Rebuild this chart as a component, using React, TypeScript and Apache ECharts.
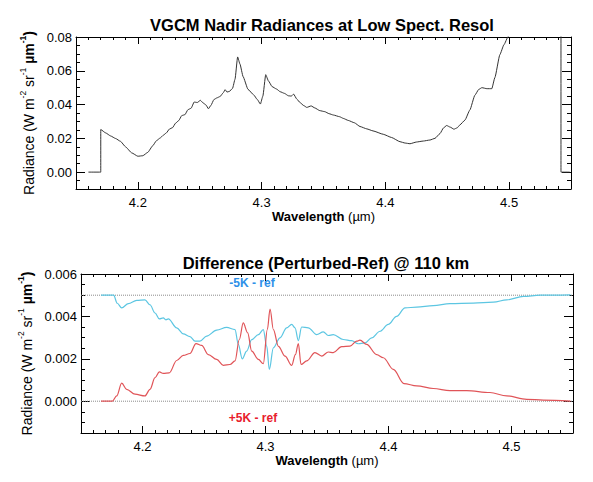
import React, { useEffect, useRef } from "react";
import * as echarts from "echarts";

// ---------- Data ----------
const topWavelength = [
  4.160, 4.170, 4.170, 4.174, 4.178, 4.182, 4.186, 4.190, 4.195, 4.200,
  4.204, 4.208, 4.212, 4.215, 4.218, 4.2205, 4.223, 4.2255, 4.228, 4.2305,
  4.233, 4.2355, 4.238, 4.2405, 4.243, 4.2455, 4.248, 4.2505, 4.253, 4.255,
  4.257, 4.259, 4.2615, 4.264, 4.2665, 4.269, 4.2705, 4.272, 4.274, 4.2765,
  4.2785, 4.2806, 4.2825, 4.285, 4.289, 4.2935, 4.2965, 4.299, 4.301, 4.3033,
  4.3055, 4.3085, 4.312, 4.315, 4.3185, 4.3216, 4.324, 4.3258, 4.3285, 4.331,
  4.334, 4.3365, 4.340, 4.343, 4.347, 4.351, 4.3545, 4.358, 4.363, 4.366,
  4.370, 4.375, 4.3795, 4.385, 4.390, 4.3983, 4.405, 4.4118, 4.416, 4.4199,
  4.425, 4.4307, 4.436, 4.4401, 4.4441, 4.447, 4.4495, 4.4525, 4.4554, 4.458,
  4.4603, 4.4643, 4.4683, 4.4723, 4.4755, 4.478, 4.482, 4.486, 4.4885, 4.4925,
  4.4958, 4.4993, 4.505, 4.520, 4.5419, 4.5419, 4.549,
];
const topRadiance = [
  0, 0, 0.0252, 0.0232, 0.0214, 0.0199, 0.0182, 0.0150, 0.0114, 0.0094,
  0.0097, 0.0117, 0.0156, 0.0186, 0.0202, 0.0218, 0.0232, 0.0255, 0.0263, 0.0290,
  0.0305, 0.0335, 0.0340, 0.0370, 0.0378, 0.0415, 0.0412, 0.0425, 0.0408, 0.0398,
  0.0375, 0.0395, 0.0430, 0.0440, 0.0448, 0.0470, 0.0488, 0.0474, 0.0478, 0.0496,
  0.0550, 0.0682, 0.0640, 0.0566, 0.0490, 0.0458, 0.0430, 0.0403, 0.0450, 0.0577,
  0.0540, 0.0506, 0.0492, 0.0476, 0.0466, 0.0452, 0.0450, 0.0462, 0.0432, 0.0412,
  0.0394, 0.0383, 0.0392, 0.0380, 0.0364, 0.0358, 0.0346, 0.0338, 0.0328, 0.0318,
  0.0306, 0.0292, 0.0270, 0.0256, 0.0244, 0.0224, 0.0205, 0.0180, 0.0172, 0.0168,
  0.0178, 0.0184, 0.0190, 0.0200, 0.0228, 0.0262, 0.0276, 0.0266, 0.0254, 0.0262,
  0.0280, 0.0308, 0.0368, 0.0455, 0.0490, 0.0500, 0.0494, 0.0494, 0.0560, 0.0695,
  0.0754, 0.0804, 0.0880, 0.0980, 0.1050, 0, 0,
];

const minusWavelength = [
  4.1663, 4.1765, 4.1795, 4.1831, 4.1885, 4.1953, 4.2020, 4.2061, 4.2102, 4.2137,
  4.2169, 4.2190, 4.2210, 4.2278, 4.2332, 4.2386, 4.2427, 4.2467, 4.2522, 4.2603,
  4.2684, 4.2752, 4.2779, 4.2811, 4.2847, 4.2888, 4.2942, 4.2982, 4.3010, 4.3031,
  4.3064, 4.3118, 4.3172, 4.3213, 4.3240, 4.3267, 4.3294, 4.3348, 4.3416, 4.3470,
  4.3510, 4.3551, 4.3632, 4.3700, 4.3754, 4.3809, 4.3863, 4.3931, 4.3998, 4.4066,
  4.4134, 4.4229, 4.4364, 4.4500, 4.4690, 4.4853, 4.4961, 4.5097, 4.5232, 4.5480,
];
const minus5K = [
  0.00500, 0.00500, 0.00462, 0.00440, 0.00460, 0.00476, 0.00478, 0.00455, 0.00416, 0.00388,
  0.00393, 0.00384, 0.00388, 0.00346, 0.00318, 0.00305, 0.00283, 0.00283, 0.00307, 0.00335,
  0.00348, 0.00338, 0.00268, 0.00200, 0.00236, 0.00290, 0.00314, 0.00338, 0.00260, 0.00150,
  0.00252, 0.00299, 0.00346, 0.00362, 0.00346, 0.00286, 0.00350, 0.00346, 0.00314, 0.00327,
  0.00310, 0.00314, 0.00291, 0.00286, 0.00271, 0.00275, 0.00299, 0.00330, 0.00362, 0.00400,
  0.00440, 0.00444, 0.00451, 0.00460, 0.00463, 0.00467, 0.00478, 0.00494, 0.00500, 0.00502,
];

const plusWavelength = [
  4.1663, 4.1755, 4.1790, 4.1831, 4.1871, 4.1939, 4.2020, 4.2061, 4.2102, 4.2137,
  4.2169, 4.2218, 4.2278, 4.2332, 4.2386, 4.2435, 4.2481, 4.2535, 4.2603, 4.2657,
  4.2711, 4.2752, 4.2787, 4.2819, 4.2855, 4.2888, 4.2942, 4.2982, 4.3015, 4.3037,
  4.3064, 4.3105, 4.3159, 4.3213, 4.3243, 4.3267, 4.3289, 4.3335, 4.3402, 4.3457,
  4.3511, 4.3551, 4.3619, 4.3687, 4.3741, 4.3768, 4.3822, 4.3904, 4.3958, 4.4039,
  4.4126, 4.4229, 4.4364, 4.4500, 4.4636, 4.4825, 4.4961, 4.5124, 4.5259, 4.5480,
];
const plus5K = [
  0, 0, 0.00025, 0.00085, 0.00056, 0.00033, 0.00025, 0.00056, 0.00111, 0.00138,
  0.00131, 0.00134, 0.00192, 0.00216, 0.00225, 0.00272, 0.00263, 0.00220, 0.00197, 0.00169,
  0.00173, 0.00190, 0.00291, 0.00369, 0.00322, 0.00236, 0.00197, 0.00177, 0.00338, 0.00435,
  0.00338, 0.00259, 0.00213, 0.00169, 0.00220, 0.00272, 0.00173, 0.00190, 0.00229, 0.00213,
  0.00232, 0.00229, 0.00257, 0.00260, 0.00283, 0.00288, 0.00268, 0.00220, 0.00205, 0.00150,
  0.00083, 0.00072, 0.00060, 0.00050, 0.00050, 0.00041, 0.00025, 0.00009, 0.00005, 0,
];

// dotted reference levels in the difference panel
const referenceLevels = [0.005, 0];

const topTitle = "VGCM Nadir Radiances at Low Spect. Resol";
const bottomTitle = "Difference (Perturbed-Ref) @ 110 km";
const minusLabel = "-5K - ref";
const plusLabel = "+5K - ref";

// ---------- Styling ----------
const FONT = '"Liberation Sans", Arial, Helvetica, sans-serif';
const X_MIN = 4.15;
const X_MAX = 4.55;

const isMultiple = (v: number, step: number) =>
  Math.abs(v / step - Math.round(v / step)) < 1e-6;

const yName = "{n|Radiance (W m}{s|-2}{n| sr}{s|-1}{b| \u00b5m}{sb|-1}{b|)}";
const yNameRich = {
  n: { fontSize: 14, fontFamily: FONT, color: "#000", lineHeight: 17, verticalAlign: "bottom" },
  b: { fontSize: 14, fontFamily: FONT, fontWeight: "bold", color: "#000", lineHeight: 17, verticalAlign: "bottom" },
  s: { fontSize: 8.5, fontFamily: FONT, color: "#000", lineHeight: 12, padding: [0, 0, 8, 0], verticalAlign: "bottom" },
  sb: { fontSize: 8.5, fontFamily: FONT, fontWeight: "bold", color: "#000", lineHeight: 12, padding: [0, 0, 8, 0], verticalAlign: "bottom" },
};
const xName = "{b|Wavelength}{n| (\u00b5m)}";
const xNameRich = {
  b: { fontSize: 13, fontFamily: FONT, fontWeight: "bold", color: "#000" },
  n: { fontSize: 13, fontFamily: FONT, color: "#000" },
};

function xAxes(grid: number, labelMargin: number, nameGap: number) {
  const common = { type: "value", gridIndex: grid, min: X_MIN, max: X_MAX, splitLine: { show: false } };
  const major = (position: string, labels: boolean) => ({
    ...common,
    position,
    splitNumber: 4,
    axisLine: { show: true, onZero: false, lineStyle: { color: "#000", width: 1 } },
    axisTick: { show: true, inside: true, length: 7, lineStyle: { color: "#000", width: 1 } },
    axisLabel: labels
      ? {
          show: true,
          showMinLabel: false,
          showMaxLabel: false,
          margin: labelMargin,
          fontSize: 13,
          fontFamily: FONT,
          color: "#000",
          formatter: (v: number) => (isMultiple(v, 0.1) ? v.toFixed(1) : ""),
        }
      : { show: false },
    ...(labels
      ? { name: xName, nameLocation: "middle", nameGap, nameTextStyle: { rich: xNameRich } }
      : {}),
  });
  const minor = (position: string) => ({
    ...common,
    position,
    interval: 0.01,
    axisLine: { show: false, onZero: false },
    axisTick: { show: true, inside: true, length: 3, lineStyle: { color: "#000", width: 1 } },
    axisLabel: { show: false },
  });
  return [major("bottom", true), minor("bottom"), major("top", false), minor("top")];
}

function yAxes(grid: number, min: number, max: number, minorStep: number, majorStep: number, digits: number, nameGap: number) {
  const common = { type: "value", gridIndex: grid, min, max, splitLine: { show: false } };
  const major = (position: string, labels: boolean) => ({
    ...common,
    position,
    splitNumber: 4,
    axisLine: { show: true, onZero: false, lineStyle: { color: "#000", width: 1 } },
    axisTick: { show: true, inside: true, length: 9, lineStyle: { color: "#000", width: 1 } },
    axisLabel: labels
      ? {
          show: true,
          showMinLabel: false,
          margin: 4,
          fontSize: 13,
          fontFamily: FONT,
          color: "#000",
          formatter: (v: number) => (isMultiple(v, majorStep) ? v.toFixed(digits) : ""),
        }
      : { show: false },
    ...(labels
      ? { name: yName, nameLocation: "middle", nameGap, nameRotate: 90, nameTextStyle: { rich: yNameRich } }
      : {}),
  });
  const minor = (position: string) => ({
    ...common,
    position,
    interval: minorStep,
    axisLine: { show: false, onZero: false },
    axisTick: { show: true, inside: true, length: 4, lineStyle: { color: "#000", width: 1 } },
    axisLabel: { show: false },
  });
  return [major("left", true), minor("left"), major("right", false), minor("right")];
}

const pairs = (xs: number[], ys: number[]) => xs.map((x, i) => [x, ys[i]]);

export default function App() {
  const ref = useRef<HTMLDivElement>(null);

  useEffect(() => {
    if (!ref.current) return;
    const chart = echarts.init(ref.current, null, { renderer: "svg" });
    const referenceSeries = referenceLevels.map((level, i) => ({
      name: "reference " + i,
      type: "line",
      xAxisIndex: 4,
      yAxisIndex: 4,
      data: [
        [X_MIN, level],
        [X_MAX, level],
      ],
      symbol: "none",
      silent: true,
      lineStyle: { type: "dotted", color: "#8a8a8a", width: 1 },
      z: 1,
    }));
    const option: any = {
      animation: false,
      backgroundColor: "#ffffff",
      grid: [
        { left: 76, top: 37, width: 495, height: 152, containLabel: false },
        { left: 81, top: 274, width: 492, height: 159, containLabel: false },
      ],
      xAxis: [...xAxes(0, 7, 21), ...xAxes(1, 7, 20)],
      yAxis: [
        ...yAxes(0, -0.01, 0.08, 0.005, 0.02, 2, 38),
        ...yAxes(1, -0.0015, 0.006, 0.0005, 0.002, 3, 45),
      ],
      graphic: [
        {
          type: "text",
          x: 322,
          y: 25,
          style: { text: topTitle, fontSize: 16.5, fontWeight: "bold", fontFamily: FONT, fill: "#000", align: "center", verticalAlign: "middle" },
        },
        {
          type: "text",
          x: 326,
          y: 263,
          style: { text: bottomTitle, fontSize: 16.5, fontWeight: "bold", fontFamily: FONT, fill: "#000", align: "center", verticalAlign: "middle" },
        },
        {
          type: "text",
          x: 252,
          y: 283,
          style: { text: minusLabel, fontSize: 12, fontWeight: "bold", fontFamily: FONT, fill: "#2e90e8", align: "center", verticalAlign: "middle" },
        },
        {
          type: "text",
          x: 253,
          y: 418,
          style: { text: plusLabel, fontSize: 12, fontWeight: "bold", fontFamily: FONT, fill: "#e8202c", align: "center", verticalAlign: "middle" },
        },
      ],
      series: [
        {
          name: "Radiance",
          type: "line",
          xAxisIndex: 0,
          yAxisIndex: 0,
          data: pairs(topWavelength, topRadiance),
          symbol: "none",
          clip: true,
          smooth: 0.15,
          smoothMonotone: "x",
          lineStyle: { color: "#333333", width: 1 },
        },
        ...referenceSeries,
        {
          name: minusLabel,
          type: "line",
          xAxisIndex: 4,
          yAxisIndex: 4,
          data: pairs(minusWavelength, minus5K),
          symbol: "none",
          clip: true,
          smooth: 0.35,
          smoothMonotone: "x",
          lineStyle: { color: "#5cc6e2", width: 1.2 },
          z: 3,
        },
        {
          name: plusLabel,
          type: "line",
          xAxisIndex: 4,
          yAxisIndex: 4,
          data: pairs(plusWavelength, plus5K),
          symbol: "none",
          clip: true,
          smooth: 0.35,
          smoothMonotone: "x",
          lineStyle: { color: "#e05458", width: 1.2 },
          z: 3,
        },
      ],
    };
    chart.setOption(option);
    return () => chart.dispose();
  }, []);

  return (
    <div
      ref={ref}
      style={{ position: "fixed", left: 0, top: 0, width: 593, height: 482, background: "#fff" }}
    />
  );
}
